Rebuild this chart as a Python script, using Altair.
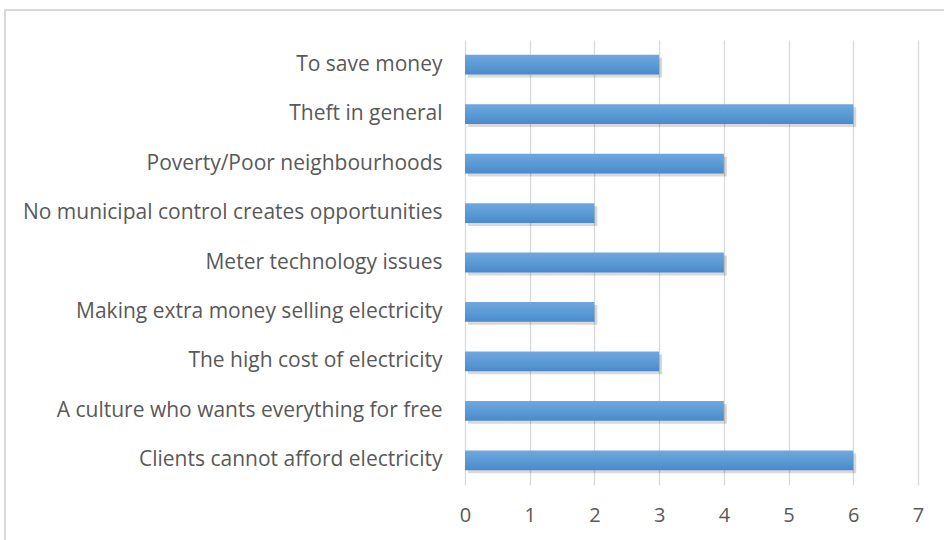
import altair as alt
import pandas as pd

categories = [
    "To save money",
    "Theft in general",
    "Poverty/Poor neighbourhoods",
    "No municipal control creates opportunities",
    "Meter technology issues",
    "Making extra money selling electricity",
    "The high cost of electricity",
    "A culture who wants everything for free",
    "Clients cannot afford electricity",
]
values = [3, 6, 4, 2, 4, 2, 3, 4, 6]
x_ticks = [0, 1, 2, 3, 4, 5, 6, 7]

df = pd.DataFrame({"reason": categories, "count": values})

FONT = "Open Sans"

y_enc = alt.Y("reason:N", sort=categories, title=None,
              scale=alt.Scale(paddingInner=0.6, paddingOuter=0.3),
              axis=alt.Axis(domain=False, ticks=False, grid=False,
                            labelPadding=23,
                            labelFontSize=21, labelColor="#595959",
                            labelFont=FONT, labelLimit=500))
x_enc = alt.X("count:Q", title=None,
              scale=alt.Scale(domain=[0, 7], nice=False),
              axis=alt.Axis(values=x_ticks, domain=False, ticks=False,
                            labelPadding=20, labelFontSize=20,
                            labelColor="#595959", labelFont=FONT,
                            labelFlush=False,
                            grid=True, gridColor="#d9d9d9", gridWidth=1.3,
                            format="d"))

frame = alt.Chart(df).mark_rect(
    fillOpacity=0, stroke="#d9d9d9", strokeWidth=2, clip=False
).encode(
    x=alt.value(-460), x2=alt.value(489), y=alt.value(-30), y2=alt.value(510)
).transform_filter("datum.reason == 'To save money'")

shadow = alt.Chart(df).mark_bar(
    color="#000000", opacity=0.15, xOffset=3, yOffset=3
).encode(x=x_enc, y=y_enc)

bars = alt.Chart(df).mark_bar(
    color=alt.Gradient(
        gradient="linear", x1=0, x2=0, y1=0, y2=1,
        stops=[alt.GradientStop(color="#70a7de", offset=0),
               alt.GradientStop(color="#5b9bd5", offset=0.5),
               alt.GradientStop(color="#4a8acb", offset=1)],
    )
).encode(x=x_enc, y=y_enc)

chart = alt.layer(frame, shadow, bars).properties(
    width=453, height=445,
    background="white",
    padding={"left": 465, "top": 40, "right": 26, "bottom": 55},
    autosize=alt.AutoSizeParams(type="none"),
).configure_view(stroke="transparent")

chart.save("out.html", embed_options={"renderer": "svg", "actions": False})
